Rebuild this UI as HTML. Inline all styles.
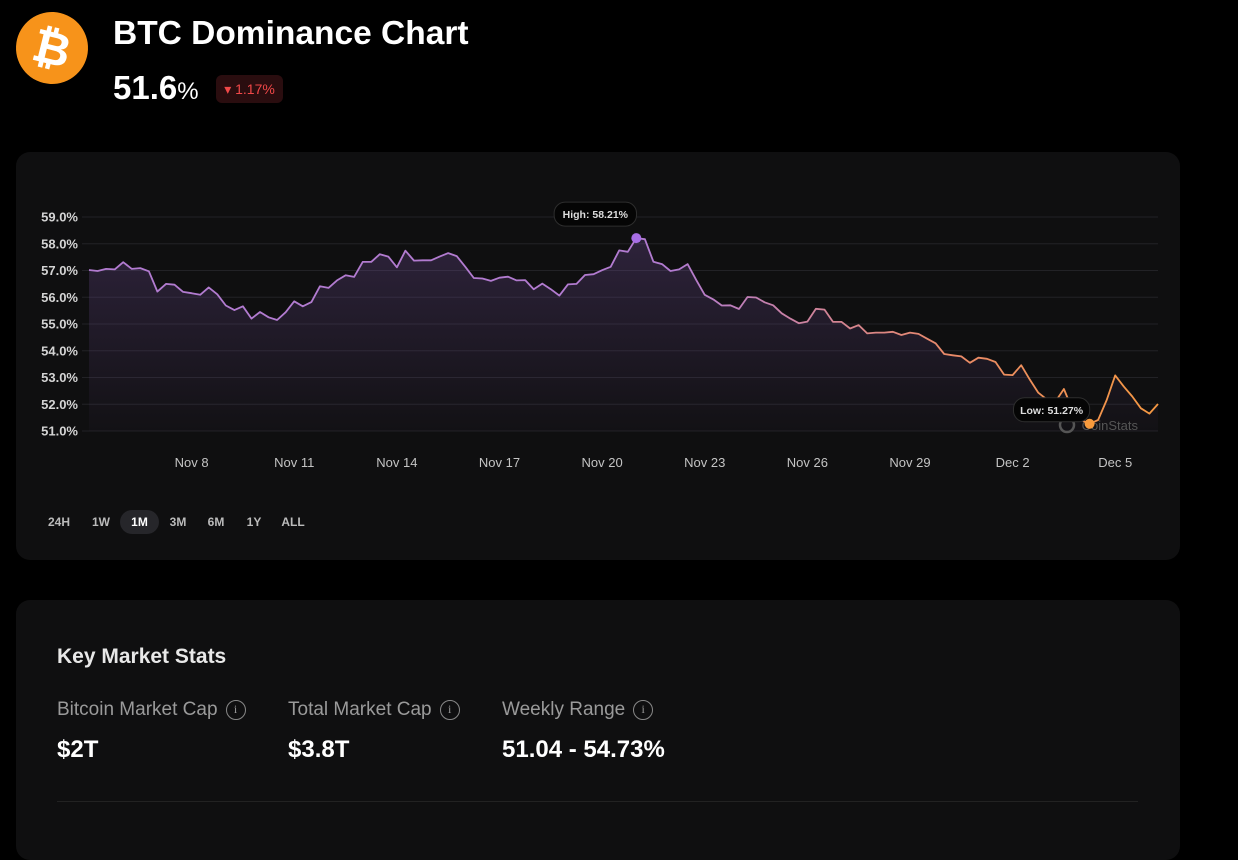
<!DOCTYPE html>
<html><head><meta charset="utf-8"><style>
*{margin:0;padding:0;box-sizing:border-box}
body{width:1238px;height:814px;background:#000;font-family:"Liberation Sans",sans-serif;color:#fff;position:relative;overflow:hidden}
.abs{position:absolute}
.card{position:absolute;background:#0f0f10;border-radius:14px}
.tb{position:absolute;top:510px;height:24px;line-height:24px;font-size:12px;font-weight:bold;color:#bbb;text-align:center;border-radius:12px}
.lbl{position:absolute;top:699px;font-size:19px;color:#9a9a9a}
.val{position:absolute;top:736px;font-size:24px;font-weight:bold;color:#fff}
.info{display:inline-block;width:20px;height:20px;border:1.5px solid #888;border-radius:50%;font-size:12px;line-height:17px;text-align:center;color:#999;vertical-align:2px;margin-left:8px;font-family:"Liberation Serif",serif}
</style></head><body>
<div class="abs" style="left:16px;top:12px;width:72px;height:72px;border-radius:50%;background:#f7931a;color:#fff;font-size:46px;font-weight:bold;text-align:center;line-height:72px;font-family:'DejaVu Sans',sans-serif;transform:rotate(14deg)">₿</div>
<div class="abs" style="left:113px;top:15px;font-size:33.5px;font-weight:bold">BTC Dominance Chart</div>
<div class="abs" style="left:113px;top:69px;font-size:33px;font-weight:bold">51.6<span style="font-size:24px;font-weight:normal">%</span></div>
<div class="abs" style="left:216px;top:75px;width:67px;height:28px;border-radius:6px;background:#2a0d0f;color:#f04848;font-size:14px;line-height:28px;text-align:center">▾ 1.17%</div>

<div class="card" style="left:16px;top:152px;width:1164px;height:408px"></div>
<svg class="abs" style="left:0;top:0" width="1238" height="600" id="chart">
<defs>
<linearGradient id="lg" gradientUnits="userSpaceOnUse" x1="89" y1="0" x2="1158" y2="0">
<stop offset="0" stop-color="#b27bd0"/><stop offset="0.55" stop-color="#b27bd0"/><stop offset="0.8" stop-color="#e98a6a"/><stop offset="1" stop-color="#f59842"/></linearGradient>
<linearGradient id="fg" x1="0" y1="0" x2="0" y2="1"><stop offset="0" stop-color="#7c55a8" stop-opacity="0.28"/><stop offset="1" stop-color="#7c55a8" stop-opacity="0.03"/></linearGradient>
</defs>
</svg>
<div class="tb" style="left:40px;width:38px">24H</div>
<div class="tb" style="left:84px;width:34px">1W</div>
<div class="tb" style="left:120px;width:39px;background:#26262a;color:#fff">1M</div>
<div class="tb" style="left:162px;width:32px">3M</div>
<div class="tb" style="left:200px;width:32px">6M</div>
<div class="tb" style="left:240px;width:28px">1Y</div>
<div class="tb" style="left:276px;width:34px">ALL</div>

<div class="card" style="left:16px;top:600px;width:1164px;height:260px"></div>
<div class="abs" style="left:57px;top:645px;font-size:21px;font-weight:bold;color:#e8e8e8">Key Market Stats</div>
<div class="lbl" style="left:57px">Bitcoin Market Cap<span class="info">i</span></div>
<div class="val" style="left:57px">$2T</div>
<div class="lbl" style="left:288px">Total Market Cap<span class="info">i</span></div>
<div class="val" style="left:288px">$3.8T</div>
<div class="lbl" style="left:502px">Weekly Range<span class="info">i</span></div>
<div class="val" style="left:502px">51.04 - 54.73%</div>
<div class="abs" style="left:57px;top:801px;width:1081px;height:1px;background:#222"></div>

<script>
const yTicks=[59,58,57,56,55,54,53,52,51];
const dateLabels=["Nov 8","Nov 11","Nov 14","Nov 17","Nov 20","Nov 23","Nov 26","Nov 29","Dec 2","Dec 5"];
const dateIndex=[12,24,36,48,60,72,84,96,108,120];
const values=[57.02,56.98,57.06,57.04,57.31,57.06,57.09,56.97,56.21,56.50,56.47,56.20,56.15,56.09,56.37,56.11,55.69,55.52,55.66,55.20,55.45,55.25,55.15,55.44,55.85,55.66,55.82,56.41,56.35,56.63,56.82,56.76,57.32,57.32,57.61,57.52,57.12,57.74,57.37,57.38,57.38,57.52,57.65,57.54,57.14,56.72,56.70,56.61,56.73,56.77,56.63,56.64,56.30,56.51,56.30,56.06,56.48,56.50,56.83,56.86,57.01,57.14,57.75,57.70,58.21,
58.17,57.33,57.24,56.98,57.04,57.24,56.65,56.09,55.92,55.69,55.70,55.56,56.01,55.99,55.81,55.70,55.40,55.20,55.03,55.09,55.57,55.54,55.08,55.08,54.83,54.96,54.65,54.68,54.68,54.71,54.59,54.68,54.63,54.45,54.28,53.88,53.83,53.79,53.55,53.74,53.70,53.58,53.11,53.09,53.46,52.93,52.43,52.18,52.10,52.57,51.79,51.41,51.27,51.41,52.16,53.08,52.66,52.29,51.85,51.65,52.01];
const highLabel="High: 58.21%", lowLabel="Low: 51.27%";
const NS="http://www.w3.org/2000/svg";
const svg=document.getElementById('chart');
const X0=89,X1=1158,YT=217,YB=431,VMAX=59,VMIN=51;
const x=i=>X0+i*(X1-X0)/(values.length-1);
const y=v=>YT+(VMAX-v)*(YB-YT)/(VMAX-VMIN);
function mk(t,a){const e=document.createElementNS(NS,t);for(const k in a)e.setAttribute(k,a[k]);svg.appendChild(e);return e;}
yTicks.forEach(v=>{
 const g=mk('line',{x1:82,x2:1158,y1:y(v),y2:y(v),stroke:'#222226','stroke-width':1});
 
 
 const t=mk('text',{x:78,y:y(v)+4.5,'text-anchor':'end',fill:'#d4d4d4','font-size':13,'font-weight':'bold','font-family':'Liberation Sans'});
 t.textContent=v.toFixed(1)+'%';
 
 
});
dateLabels.forEach((d,k)=>{
 const t=mk('text',{x:x(dateIndex[k]),y:467,'text-anchor':'middle',fill:'#c4c4c4','font-size':13,'font-family':'Liberation Sans'});
 t.textContent=d;
 
 
});
let pts=values.map((v,i)=>x(i).toFixed(1)+','+y(v).toFixed(1));
const area=mk('path',{d:'M'+x(0)+','+YB+' L'+pts.join(' L')+' L'+x(values.length-1)+','+YB+' Z',fill:'url(#fg)'});


const wm=mk('text',{x:1138,y:430,'text-anchor':'end',fill:'#555','font-size':13,'font-family':'Liberation Sans'});
wm.textContent='CoinStats';


const wc=mk('circle',{cx:1067,cy:425,r:7,fill:'none',stroke:'#555','stroke-width':2.5});


const line=mk('polyline',{points:pts.join(' '),fill:'none',stroke:'url(#lg)','stroke-width':1.8,'stroke-linejoin':'round'});


let hi=0,lo=0;values.forEach((v,i)=>{if(v>values[hi])hi=i;if(v<values[lo])lo=i;});
function tip(i,txt,color,dx,dy,name){
 const w=txt.length*6.2+8;
 const bx=x(i)+dx-w/2, by=y(values[i])+dy;
 const r=mk('rect',{x:bx,y:by,width:w,height:24,rx:11,fill:'#050505',stroke:'#2e2e2e'});
 
 
 const t=mk('text',{x:bx+w/2,y:by+16,'text-anchor':'middle',fill:'#ddd','font-size':10.5,'font-weight':'bold','font-family':'Liberation Sans'});
 t.textContent=txt;
 
 
 const c=mk('circle',{cx:x(i),cy:y(values[i]),r:5,fill:color});
 
 
}
tip(hi,highLabel,'#a86ee6',-41,-36,'high');
tip(lo,lowLabel,'#f79a3c',-38,-26,'low');
</script>
</body></html>
